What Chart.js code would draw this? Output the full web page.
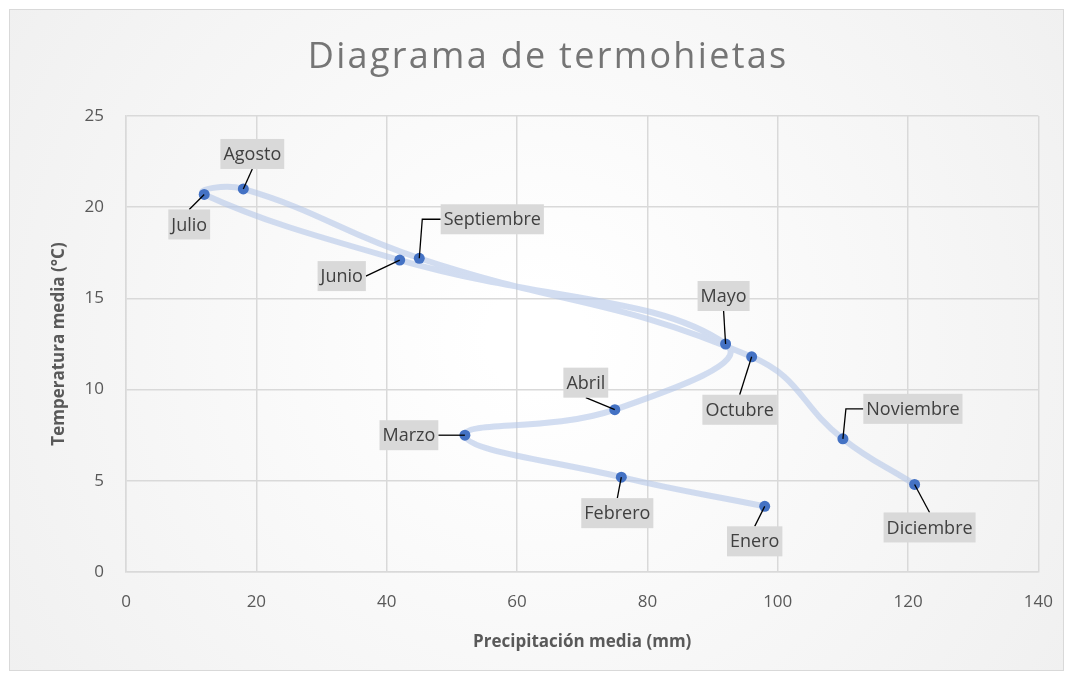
<!DOCTYPE html>
<html>
<head>
<meta charset="utf-8">
<title>Diagrama de termohietas</title>
<script src="https://cdn.jsdelivr.net/npm/chart.js@4.4.1/dist/chart.umd.min.js"></script>
<style>
  body { margin: 0; background: #ffffff; }
  canvas { display: block; }
</style>
</head>
<body>
<canvas id="termo" width="1073" height="680"></canvas>
<script>
// datos
const months = ['Enero', 'Febrero', 'Marzo', 'Abril', 'Mayo', 'Junio', 'Julio', 'Agosto', 'Septiembre', 'Octubre', 'Noviembre', 'Diciembre'];
const precip = [98, 76, 52, 75, 92, 42, 12, 18, 45, 96, 110, 121];
const temp = [3.6, 5.2, 7.5, 8.9, 12.5, 17.1, 20.7, 21.0, 17.2, 11.8, 7.3, 4.8];
const xTicks = [0, 20, 40, 60, 80, 100, 120, 140];
const yTicks = [0, 5, 10, 15, 20, 25];
const chartTitle = 'Diagrama de termohietas';

// posicion de las etiquetas (px respecto al punto) -- solo estilo
const labelPos = [
    [-10, 35], [-4, 36], [-56, 0], [-29, -27], [-2, -48], [-58, 16],
    [-15, 30], [9, -35], [73, -39], [-12, 53], [70, -30], [15, 43]
];
const elbow = [false, false, false, false, false, false, false, false, true, false, true, false];

const FONT = '"Open Sans", "Noto Sans", sans-serif';

const background = {
    id: 'background',
    beforeDraw(chart) {
        const c = chart.ctx;
        const w = chart.width, h = chart.height;
        c.save();
        c.fillStyle = '#ffffff';
        c.fillRect(0, 0, w, h);
        const g = c.createRadialGradient(w / 2, h / 2, 50, w / 2, h / 2, w * 0.62);
        g.addColorStop(0, '#ffffff');
        g.addColorStop(1, '#efefef');
        c.fillStyle = g;
        c.fillRect(10, 10, w - 20, h - 20);
        c.strokeStyle = '#d9d9d9';
        c.lineWidth = 1;
        c.strokeRect(9.5, 9.5, w - 19, h - 19);

        // titulo con espaciado como en Excel
        c.font = '36px ' + FONT;
        c.fillStyle = '#757575';
        c.textBaseline = 'middle';
        c.textAlign = 'left';
        const sp = 2.3;
        c.letterSpacing = sp + 'px';
        const tw = c.measureText(chartTitle).width - sp;
        c.fillText(chartTitle, 547 - tw / 2, 58);
        c.restore();
    }
};

const dataLabels = {
    id: 'dataLabels',
    afterDatasetsDraw(chart) {
        const c = chart.ctx;
        const pts = chart.getDatasetMeta(0).data;
        c.save();
        c.font = '18px ' + FONT;
        c.textAlign = 'center';
        c.textBaseline = 'middle';
        pts.forEach((p, i) => {
            const txt = months[i];
            const cx = p.x + labelPos[i][0];
            const cy = p.y + labelPos[i][1];
            const bw = c.measureText(txt).width + 6;
            const bh = 30;
            const l = cx - bw / 2, r = cx + bw / 2, t = cy - bh / 2, b = cy + bh / 2;

            // linea guia
            c.strokeStyle = '#000000';
            c.lineWidth = 1.3;
            c.beginPath();
            c.moveTo(p.x, p.y);
            if (elbow[i]) {
                c.lineTo(p.x + (cx > p.x ? 3 : -3), cy);
                c.lineTo(cx > p.x ? l : r, cy);
            } else if (Math.abs(labelPos[i][1]) >= 25) {
                c.lineTo(cx, cy > p.y ? t : b);
            } else {
                c.lineTo(cx > p.x ? l : r, cy);
            }
            c.stroke();

            c.fillStyle = '#d9d9d9';
            c.fillRect(l, t, bw, bh);
            c.fillStyle = '#404040';
            c.fillText(txt, cx, cy + 1);
        });
        c.restore();
    }
};

const ctx = document.getElementById('termo').getContext('2d');
const chart = new Chart(ctx, {
    type: 'scatter',
    data: {
        datasets: [{
            label: 'Termohietas',
            data: precip.map((x, i) => ({ x: x, y: temp[i] })),
            showLine: true,
            tension: 0.45,
            borderColor: 'rgba(180, 199, 231, 0.6)',
            borderWidth: 6,
            pointRadius: 5.5,
            pointBackgroundColor: '#4472c4',
            pointBorderWidth: 0
        }]
    },
    options: {
        responsive: false,
        animation: false,
        layout: { padding: { left: 20, right: 31, top: 116, bottom: 18 } },
        plugins: {
            legend: { display: false },
            tooltip: { enabled: false },
            title: { display: false }
        },
        scales: {
            x: {
                type: 'linear',
                min: 0,
                max: 140,
                afterBuildTicks: s => { s.ticks = xTicks.map(v => ({ value: v })); },
                afterFit: s => { s.height = 90; },
                grid: { color: '#d9d9d9', lineWidth: 1.5, drawTicks: false },
                border: { color: '#d9d9d9', width: 1.5 },
                ticks: { color: '#595959', padding: 20, font: { family: FONT, size: 17 } },
                title: {
                    display: true,
                    text: 'Precipitación media (mm)',
                    color: '#595959',
                    font: { family: FONT, size: 17, weight: 'bold' },
                    padding: { top: 0, bottom: 10 }
                }
            },
            y: {
                min: 0,
                max: 25,
                afterBuildTicks: s => { s.ticks = yTicks.map(v => ({ value: v })); },
                afterFit: s => { s.width = 106; },
                grid: { color: '#d9d9d9', lineWidth: 1.5, drawTicks: false },
                border: { color: '#d9d9d9', width: 1.5 },
                ticks: { color: '#595959', padding: 22, font: { family: FONT, size: 17 } },
                title: {
                    display: true,
                    text: 'Temperatura media (°C)',
                    color: '#595959',
                    font: { family: FONT, size: 17, weight: 'bold' },
                    padding: { top: 29, bottom: 0 }
                }
            }
        }
    },
    plugins: [background, dataLabels]
});
</script>
</body>
</html>
